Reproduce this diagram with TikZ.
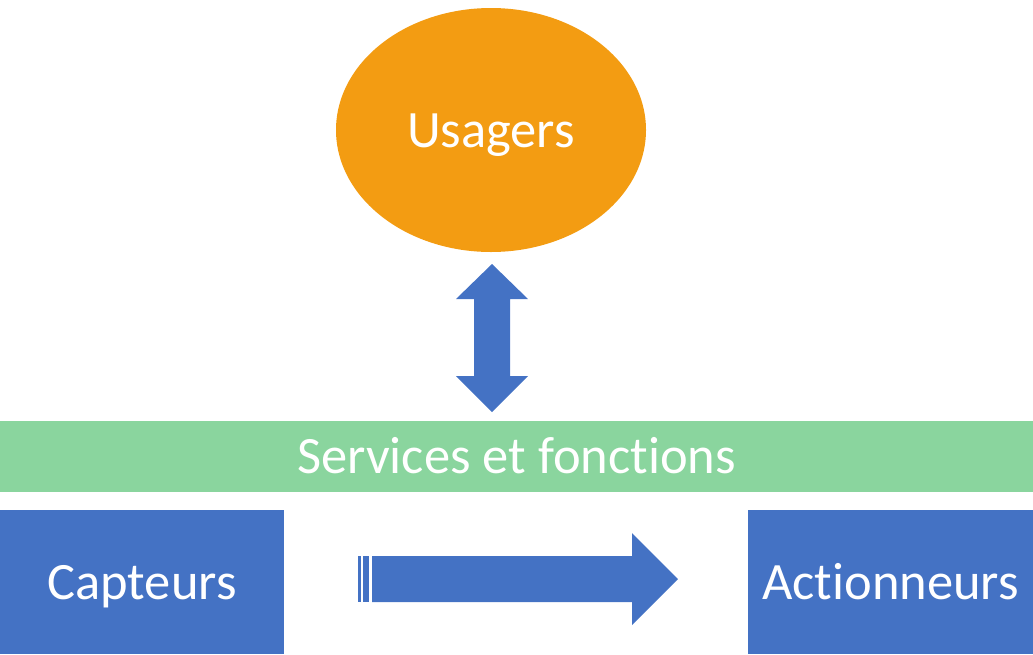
\documentclass[tikz,border=0pt]{standalone}
\usepackage{fontspec}
\setmainfont{Carlito}[Ligatures={NoCommon}]
\usetikzlibrary{shapes.geometric}
\definecolor{usagerorange}{HTML}{F39C12}
\definecolor{blocbleu}{HTML}{4472C4}
\definecolor{barvert}{HTML}{8AD59E}
\tikzset{
  grandtexte/.style={text=white, inner sep=0pt, text height=34pt, text depth=0pt, font=\fontsize{52.5}{60}\selectfont},
  bloc/.style={grandtexte, fill=blocbleu, minimum height=144pt},
  fleche/.style={fill=blocbleu},
}

\begin{document}
\begin{tikzpicture}[x=1pt, y=-1pt]
    \useasboundingbox (0,0) rectangle (1033,654);

    % usagers en haut
    \node[grandtexte, ellipse, fill=usagerorange, minimum width=310pt, minimum height=244pt] (usagers) at (491,130) {Usagers};

    % barre des services
    \node[grandtexte, fill=barvert, minimum width=1033pt, minimum height=71pt] (services) at (516.5,456.5) {Services et fonctions};

    % capteurs et actionneurs
    \node[bloc, minimum width=284pt] (capteurs) at (142,582) {Capteurs};
    \node[bloc, minimum width=285pt] (actionneurs) at (890.5,582) {Actionneurs};

    % double fleche usagers <-> services
    \fill[fleche] (492,264) -- (528,299) -- (510,299) -- (510,376) -- (528,376) -- (492,412)
        -- (456,376) -- (474,376) -- (474,299) -- (456,299) -- cycle;

    % fleche capteurs -> actionneurs
    \fill[fleche] (372,556) -- (632,556) -- (632,533) -- (678,579) -- (632,625) -- (632,602) -- (372,602) -- cycle;
    \fill[fleche] (358,556) rectangle (361,602);
    \fill[fleche] (363,556) rectangle (369,602);
\end{tikzpicture}
\end{document}
